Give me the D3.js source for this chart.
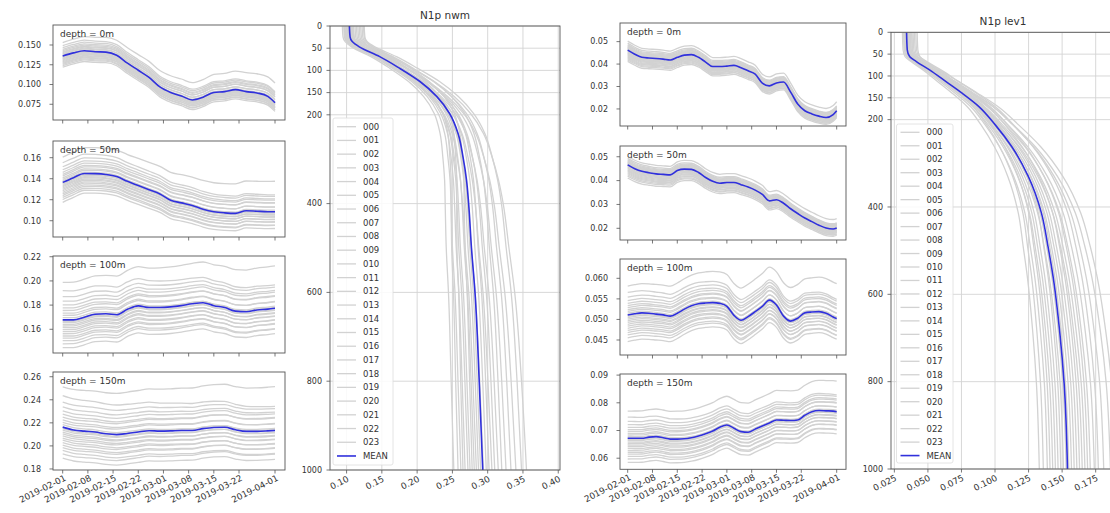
<!DOCTYPE html>
<html>
<head>
<meta charset="utf-8">
<script src="https://cdn.jsdelivr.net/npm/d3@7"></script>
<style>
  body { margin: 0; background: #fff; }
  svg { display: block; }
  text { font-family: "DejaVu Sans", sans-serif; fill: #333; }
</style>
</head>
<body>
<div id="chart"></div>
<script>
// ---- data ----
const datesLeft = ["2019-02-01","2019-02-04","2019-02-07","2019-02-10","2019-02-13","2019-02-16","2019-02-19",
  "2019-02-22","2019-02-25","2019-02-28","2019-03-03","2019-03-06","2019-03-09","2019-03-12","2019-03-15",
  "2019-03-18","2019-03-21","2019-03-24","2019-03-27","2019-03-30","2019-04-01"];
const datesRight = ["2019-02-01","2019-02-03","2019-02-05","2019-02-07","2019-02-09","2019-02-11","2019-02-13",
  "2019-02-15","2019-02-17","2019-02-19","2019-02-21","2019-02-23","2019-02-25","2019-02-27","2019-03-01",
  "2019-03-03","2019-03-05","2019-03-07","2019-03-09","2019-03-11","2019-03-13","2019-03-15","2019-03-17",
  "2019-03-19","2019-03-21","2019-03-23","2019-03-25","2019-03-27","2019-03-29","2019-03-31","2019-04-01"];
const dateTicks = ["2019-02-01","2019-02-08","2019-02-15","2019-02-22","2019-03-01","2019-03-08","2019-03-15","2019-03-22","2019-04-01"];

// ensemble mean, left figure (N1p nwm)
const nwm0m   = [0.136,0.140,0.1428,0.1415,0.141,0.137,0.127,0.118,0.109,0.097,0.090,0.0855,0.0805,0.084,0.090,0.091,0.0935,0.091,0.0893,0.085,0.077];
const nwm50m  = [0.1365,0.141,0.145,0.1448,0.144,0.142,0.1375,0.1335,0.1295,0.1255,0.1195,0.117,0.1145,0.111,0.1086,0.1075,0.107,0.1095,0.109,0.1086,0.1086];
const nwm100m = [0.1678,0.1678,0.170,0.1725,0.1728,0.172,0.1765,0.1794,0.178,0.178,0.1785,0.1796,0.1811,0.182,0.1795,0.178,0.175,0.1745,0.176,0.1767,0.1774];
const nwm150m = [0.2163,0.2138,0.2128,0.212,0.2105,0.2098,0.2108,0.212,0.2132,0.2128,0.213,0.2134,0.2134,0.215,0.216,0.2162,0.214,0.2126,0.2126,0.213,0.2134];

// ensemble mean, right figure (N1p lev1)
const lev0m   = [0.0462,0.0444,0.0430,0.0427,0.0425,0.0422,0.0418,0.0430,0.0440,0.0442,0.0430,0.0409,0.0389,0.0389,0.0391,0.0394,
  0.0384,0.0370,0.0355,0.0315,0.0303,0.0316,0.0320,0.0275,0.0222,0.0192,0.0178,0.0168,0.0162,0.0175,0.0192];
const lev50m  = [0.0466,0.0450,0.0439,0.0433,0.0428,0.0426,0.0424,0.0442,0.0448,0.0447,0.0434,0.0413,0.0397,0.0389,0.0392,0.0392,
  0.0383,0.0373,0.0360,0.0342,0.0315,0.0320,0.0305,0.0282,0.0262,0.0243,0.0228,0.0213,0.0201,0.0197,0.0201];
const lev100m = [0.0511,0.0514,0.0516,0.0515,0.0513,0.0511,0.0508,0.0515,0.0525,0.0533,0.0538,0.0540,0.0541,0.0539,0.0532,0.0510,
  0.0498,0.0507,0.0519,0.0532,0.0547,0.0535,0.0508,0.0496,0.0503,0.0516,0.0518,0.0519,0.0515,0.0506,0.0502];
const lev150m = [0.0672,0.0672,0.0672,0.0676,0.0678,0.0674,0.0669,0.0669,0.0670,0.0674,0.0680,0.0688,0.0698,0.0712,0.0720,0.0708,
  0.0696,0.0694,0.0705,0.0716,0.0727,0.0738,0.0737,0.0736,0.0738,0.0755,0.0768,0.0772,0.0771,0.0770,0.0768];

// members: rank of each member inside the band (start / end of period)
const memberRankStart = [1.0,0.78,0.62,0.5,0.4,0.32,0.25,0.18,0.12,0.06,0.0,-0.05,-0.1,-0.16,-0.22,-0.28,-0.35,-0.42,-0.5,-0.58,-0.66,-0.75,-0.86,-1.0];
const memberRankEnd   = [1.0,0.55,0.5,0.42,0.38,0.28,0.3,0.15,0.16,0.02,0.05,-0.08,-0.06,-0.2,-0.17,-0.32,-0.3,-0.47,-0.45,-0.62,-0.6,-0.8,-0.82,-1.0];
// band around the mean: [below at start, above at start, below at end, above at end]
const bandNwm0m   = [0.014, 0.017, 0.011, 0.025];
const bandNwm50m  = [0.019, 0.024, 0.016, 0.029];
const bandNwm100m = [0.023, 0.031, 0.021, 0.035];
const bandNwm150m = [0.027, 0.035, 0.025, 0.038];
const bandLev0m   = [0.005, 0.004, 0.003, 0.004];
const bandLev50m  = [0.0055, 0.0035, 0.003, 0.004];
const bandLev100m = [0.0065, 0.007, 0.005, 0.0085];
const bandLev150m = [0.0087, 0.0098, 0.008, 0.011];

// vertical profiles
const depthNwm  = [0,25,35,47,69,95,125,159,197,242,295,347,400,500,600,800,1000];
const meanNwm   = [0.104,0.105,0.108,0.118,0.147,0.175,0.204,0.228,0.246,0.258,0.265,0.270,0.273,0.277,0.282,0.288,0.293];
const weightNwm = [0,0,0,0.03,0.08,0.13,0.2,0.28,0.38,0.5,0.6,0.68,0.75,0.83,0.89,0.96,1];
const surfaceNwm = [0.094,0.110,0.097,0.120,0.099,0.101,0.100,0.124,0.103,0.096,0.105,0.106,0.098,0.108,0.116,0.102,0.112,0.104,0.122,0.109,0.118,0.107,0.125,0.114];
const deepNwm    = [0.252,0.258,0.262,0.265,0.268,0.272,0.275,0.278,0.281,0.284,0.287,0.290,0.294,0.298,0.302,0.306,0.310,0.315,0.320,0.326,0.333,0.340,0.348,0.355];

const depthLev  = [0,40,56,67,86,113,140,170,212,262,330,414,491,560,689,804,1000];
const meanLev   = [0.0341,0.0346,0.0365,0.0414,0.0512,0.0635,0.0757,0.088,0.1002,0.1125,0.1248,0.1346,0.1395,0.1433,0.1483,0.1515,0.154];
const weightLev = [0,0,0.02,0.05,0.1,0.17,0.24,0.32,0.42,0.55,0.68,0.79,0.86,0.9,0.95,0.98,1];
const surfaceLev = [0.031,0.036,0.032,0.038,0.033,0.034,0.035,0.042,0.032,0.033,0.037,0.034,0.035,0.036,0.040,0.033,0.034,0.039,0.035,0.036,0.041,0.037,0.034,0.038];
const deepLev    = [0.133,0.136,0.139,0.141,0.143,0.145,0.147,0.149,0.151,0.153,0.155,0.157,0.159,0.161,0.163,0.165,0.167,0.169,0.171,0.174,0.177,0.181,0.186,0.190];

const memberNames = ["000","001","002","003","004","005","006","007","008","009","010","011",
  "012","013","014","015","016","017","018","019","020","021","022","023"];

// ---- layout ----
const width = 1110, height = 513;
const grayColor = "#d2d2d2";
const meanColor = "#3030dc";
const frameColor = "#555";
const tickFont = 8;
const xTickFont = 8.8;

const parseDate = d3.utcParse("%Y-%m-%d");
const fmtDate = d3.utcFormat("%Y-%m-%d");

const svg = d3.select("#chart").append("svg")
  .attr("width", width).attr("height", height);
svg.append("rect").attr("width", width).attr("height", height).attr("fill", "#fff");

const defs = svg.append("defs");
let clipId = 0;

const leftX = { x0: 53, x1: 285, t0: 62.7, t1: 275 };
const rightX = { x0: 620, x1: 846, t0: 627.7, t1: 836.7 };

const panels = [
  { side: leftX, y0: 25, y1: 120, dom: [0.0551, 0.1753], ticks: [0.075,0.100,0.125,0.150], fmt: ".3f", label: "depth = 0m", dates: datesLeft, mean: nwm0m, band: bandNwm0m },
  { side: leftX, y0: 141, y1: 237, dom: [0.0845, 0.1759], ticks: [0.10,0.12,0.14,0.16], fmt: ".2f", label: "depth = 50m", dates: datesLeft, mean: nwm50m, band: bandNwm50m },
  { side: leftX, y0: 256, y1: 353, dom: [0.1404, 0.2206], ticks: [0.16,0.18,0.20,0.22], fmt: ".2f", label: "depth = 100m", dates: datesLeft, mean: nwm100m, band: bandNwm100m },
  { side: leftX, y0: 372, y1: 470, dom: [0.1791, 0.2641], ticks: [0.18,0.20,0.22,0.24,0.26], fmt: ".2f", label: "depth = 150m", dates: datesLeft, mean: nwm150m, band: bandNwm150m, bottom: true },
  { side: rightX, y0: 23, y1: 126, dom: [0.0124, 0.0583], ticks: [0.02,0.03,0.04,0.05], fmt: ".2f", label: "depth = 0m", dates: datesRight, mean: lev0m, band: bandLev0m },
  { side: rightX, y0: 146, y1: 240, dom: [0.0151, 0.0545], ticks: [0.02,0.03,0.04,0.05], fmt: ".2f", label: "depth = 50m", dates: datesRight, mean: lev50m, band: bandLev50m },
  { side: rightX, y0: 259, y1: 355, dom: [0.04135, 0.0647], ticks: [0.045,0.050,0.055,0.060], fmt: ".3f", label: "depth = 100m", dates: datesRight, mean: lev100m, band: bandLev100m },
  { side: rightX, y0: 374, y1: 469.3, dom: [0.056, 0.0904], ticks: [0.06,0.07,0.08,0.09], fmt: ".2f", label: "depth = 150m", dates: datesRight, mean: lev150m, band: bandLev150m, bottom: true }
];

function addClip(x0, y0, w, h) {
  const id = "clip" + (clipId++);
  defs.append("clipPath").attr("id", id)
    .append("rect").attr("x", x0).attr("y", y0).attr("width", w).attr("height", h);
  return "url(#" + id + ")";
}

// ---- time series panels ----
panels.forEach(p => {
  const g = svg.append("g");
  const x = d3.scaleUtc()
    .domain([parseDate("2019-02-01"), parseDate("2019-04-01")])
    .range([p.side.t0, p.side.t1]);
  const y = d3.scaleLinear().domain(p.dom).range([p.y1, p.y0]);
  const dates = p.dates.map(parseDate);
  const tMax = dates[dates.length - 1] - dates[0];

  const line = d3.line()
    .x(d => x(d.date))
    .y(d => y(d.value))
    .curve(d3.curveMonotoneX);

  const plot = g.append("g").attr("clip-path", addClip(p.side.x0, p.y0, p.side.x1 - p.side.x0, p.y1 - p.y0));

  const members = memberNames.map((name, i) => {
    const rs = memberRankStart[i], re = memberRankEnd[i];
    const offStart = rs * (rs >= 0 ? p.band[1] : p.band[0]);
    const offEnd = re * (re >= 0 ? p.band[3] : p.band[2]);
    return dates.map((dt, k) => {
      const f = (dt - dates[0]) / tMax;
      return { date: dt, value: p.mean[k] + offStart * (1 - f) + offEnd * f };
    });
  });

  plot.selectAll("path.member")
    .data(members)
    .join("path")
    .attr("class", "member")
    .attr("fill", "none")
    .attr("stroke", grayColor)
    .attr("stroke-width", 1.3)
    .attr("d", line);

  plot.append("path")
    .datum(dates.map((dt, k) => ({ date: dt, value: p.mean[k] })))
    .attr("fill", "none")
    .attr("stroke", meanColor)
    .attr("stroke-width", 1.6)
    .attr("d", line);

  // frame
  g.append("rect")
    .attr("x", p.side.x0).attr("y", p.y0)
    .attr("width", p.side.x1 - p.side.x0).attr("height", p.y1 - p.y0)
    .attr("fill", "none").attr("stroke", frameColor).attr("stroke-width", 0.9);

  // y ticks
  const yt = g.append("g");
  p.ticks.forEach(t => {
    yt.append("line")
      .attr("x1", p.side.x0 - 3.5).attr("x2", p.side.x0)
      .attr("y1", y(t)).attr("y2", y(t))
      .attr("stroke", frameColor).attr("stroke-width", 0.8);
    yt.append("text")
      .attr("x", p.side.x0 - 12).attr("y", y(t))
      .attr("dy", "0.35em")
      .attr("text-anchor", "end")
      .attr("font-size", tickFont)
      .text(d3.format(p.fmt)(t));
  });

  // x ticks
  const xt = g.append("g");
  dateTicks.map(parseDate).forEach(t => {
    xt.append("line")
      .attr("x1", x(t)).attr("x2", x(t))
      .attr("y1", p.y1).attr("y2", p.y1 + 3.5)
      .attr("stroke", frameColor).attr("stroke-width", 0.8);
    if (p.bottom) {
      xt.append("text")
        .attr("transform", `translate(${x(t) + 1},${p.y1 + 4}) rotate(-27)`)
        .attr("dy", "0.75em")
        .attr("text-anchor", "end")
        .attr("font-size", xTickFont)
        .text(fmtDate(t));
    }
  });

  g.append("text")
    .attr("x", p.side.x0 + 7).attr("y", p.y0 + 12)
    .attr("font-size", 9)
    .text(p.label);
});

// ---- vertical profile panels ----
const profiles = [
  { x0: 330, x1: 560, y0: 26, y1: 470, dom: [0.0765, 0.4025], xticks: [0.10,0.15,0.20,0.25,0.30,0.35,0.40], fmt: ".2f",
    title: "N1p nwm", depth: depthNwm, mean: meanNwm, weight: weightNwm, surface: surfaceNwm, deep: deepNwm,
    legend: { x: 333, y: 118, w: 60, h: 347, first: 126.7, step: 13.72 } },
  { x0: 891, x1: 1115, y0: 32.3, y1: 469, dom: [0.0225, 0.1894], xticks: [0.025,0.050,0.075,0.100,0.125,0.150,0.175], fmt: ".3f",
    title: "N1p lev1", depth: depthLev, mean: meanLev, weight: weightLev, surface: surfaceLev, deep: deepLev,
    legend: { x: 896.5, y: 124, w: 56.5, h: 339, first: 132.3, step: 13.47 } }
];
const depthTicks = [0, 50, 100, 150, 200, 400, 600, 800, 1000];

profiles.forEach(p => {
  const g = svg.append("g");
  const x = d3.scaleLinear().domain(p.dom).range([p.x0, p.x1]);
  const y = d3.scaleLinear().domain([0, 1000]).range([p.y0, p.y1]);

  // grid
  const grid = g.append("g");
  p.xticks.forEach(t => {
    grid.append("line")
      .attr("x1", x(t)).attr("x2", x(t)).attr("y1", p.y0).attr("y2", p.y1)
      .attr("stroke", "#d4d4d4").attr("stroke-width", 0.9);
  });
  depthTicks.forEach(t => {
    grid.append("line")
      .attr("x1", p.x0).attr("x2", p.x1).attr("y1", y(t)).attr("y2", y(t))
      .attr("stroke", "#d4d4d4").attr("stroke-width", 0.9);
  });

  const line = d3.line()
    .x(d => x(d.value))
    .y(d => y(d.depth))
    .curve(d3.curveMonotoneY);

  const plot = g.append("g").attr("clip-path", addClip(p.x0, p.y0, p.x1 - p.x0, p.y1 - p.y0));
  const m0 = p.mean[0], mD = p.mean[p.mean.length - 1];

  const members = memberNames.map((name, i) =>
    p.depth.map((dep, k) => ({
      depth: dep,
      value: p.mean[k] + (p.surface[i] - m0) * (1 - p.weight[k]) + (p.deep[i] - mD) * p.weight[k]
    })));

  plot.selectAll("path.member")
    .data(members)
    .join("path")
    .attr("class", "member")
    .attr("fill", "none")
    .attr("stroke", grayColor)
    .attr("stroke-width", 1.3)
    .attr("d", line);

  plot.append("path")
    .datum(p.depth.map((dep, k) => ({ depth: dep, value: p.mean[k] })))
    .attr("fill", "none")
    .attr("stroke", meanColor)
    .attr("stroke-width", 1.6)
    .attr("d", line);

  // legend
  const L = p.legend;
  const leg = g.append("g");
  leg.append("rect")
    .attr("x", L.x).attr("y", L.y).attr("width", L.w).attr("height", L.h)
    .attr("rx", 2)
    .attr("fill", "#fff").attr("fill-opacity", 0.85)
    .attr("stroke", "#ddd").attr("stroke-width", 0.8);
  const entries = memberNames.concat(["MEAN"]);
  entries.forEach((name, i) => {
    const yy = L.first + i * L.step;
    leg.append("line")
      .attr("x1", L.x + 4).attr("x2", L.x + 23)
      .attr("y1", yy).attr("y2", yy)
      .attr("stroke", name === "MEAN" ? meanColor : grayColor)
      .attr("stroke-width", name === "MEAN" ? 1.6 : 1.3);
    leg.append("text")
      .attr("x", L.x + 30).attr("y", yy)
      .attr("dy", "0.35em")
      .attr("font-size", 8.5)
      .text(name);
  });

  // frame
  g.append("rect")
    .attr("x", p.x0).attr("y", p.y0)
    .attr("width", p.x1 - p.x0).attr("height", p.y1 - p.y0)
    .attr("fill", "none").attr("stroke", frameColor).attr("stroke-width", 0.9);

  // ticks
  depthTicks.forEach(t => {
    g.append("line")
      .attr("x1", p.x0 - 3.5).attr("x2", p.x0).attr("y1", y(t)).attr("y2", y(t))
      .attr("stroke", frameColor).attr("stroke-width", 0.8);
    g.append("text")
      .attr("x", p.x0 - 8).attr("y", y(t))
      .attr("dy", "0.35em")
      .attr("text-anchor", "end")
      .attr("font-size", tickFont)
      .text(t);
  });
  p.xticks.forEach(t => {
    g.append("line")
      .attr("x1", x(t)).attr("x2", x(t)).attr("y1", p.y1).attr("y2", p.y1 + 3.5)
      .attr("stroke", frameColor).attr("stroke-width", 0.8);
    g.append("text")
      .attr("transform", `translate(${x(t)},${p.y1 + 5}) rotate(-27)`)
      .attr("dy", "0.75em")
      .attr("text-anchor", "end")
      .attr("font-size", xTickFont)
      .text(d3.format(p.fmt)(t));
  });

  g.append("text")
    .attr("x", (p.x0 + p.x1) / 2).attr("y", p.y0 - 7)
    .attr("text-anchor", "middle")
    .attr("font-size", 10.5)
    .text(p.title);
});
</script>
</body>
</html>
